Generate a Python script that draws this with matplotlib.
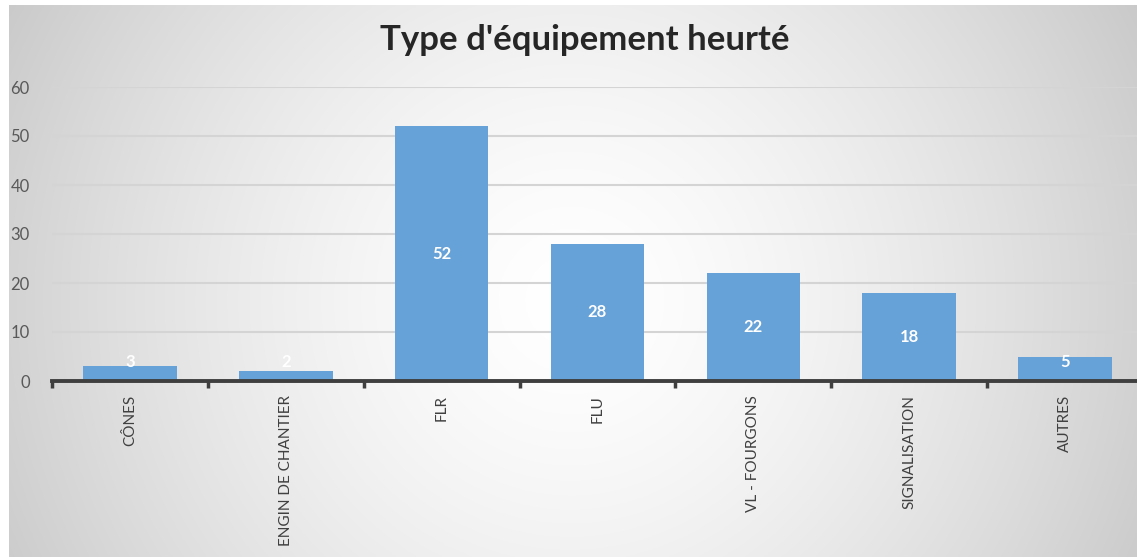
import numpy as np
import matplotlib
matplotlib.use("Agg")
import matplotlib.pyplot as plt

categories = ["CÔNES", "ENGIN DE CHANTIER", "FLR", "FLU", "VL - FOURGONS", "SIGNALISATION", "AUTRES"]
values = [3, 2, 52, 28, 22, 18, 5]
yticks = [0, 10, 20, 30, 40, 50, 60]
title = "Type d'équipement heurté"

W, H = 1137, 559
fig = plt.figure(figsize=(W / 100, H / 100), dpi=100)
fig.patch.set_facecolor("white")

# background radial gradient
bg = fig.add_axes([0, 0, 1, 1])
bg.set_xlim(0, W)
bg.set_ylim(H, 0)
bg.axis("off")
x0, x1, y0, y1 = 9, W, 5, 557
xx, yy = np.meshgrid(np.arange(x0, x1), np.arange(y0, y1))
cx, cy = 570, 300
d = np.sqrt((xx - cx) ** 2 + (yy - cy) ** 2) / 628.0
g = np.clip(255 - 52 * d ** 1.5, 0, 255) / 255.0
img = np.dstack([g, g, g])
bg.imshow(img, extent=(x0, x1, y1, y0), aspect="auto", interpolation="bilinear", zorder=0)

ax = fig.add_axes([52 / W, 1 - 381 / H, (1143 - 52) / W, (381 - 87) / H])
ax.patch.set_alpha(0)
x = np.arange(len(categories))
bars = ax.bar(x, values, width=0.6, color="#66a1d8", zorder=3)
ax.set_xlim(-0.5, len(categories) - 0.5)
ax.set_ylim(0, 60)
ax.set_yticks(yticks)
ax.yaxis.grid(True, color="#d4d4d4", lw=1.5, zorder=0)
ax.set_axisbelow(True)
for s in ["top", "right", "left"]:
    ax.spines[s].set_visible(False)
ax.spines["bottom"].set_color("#3f3f3f")
ax.spines["bottom"].set_linewidth(2.8)
ax.spines["bottom"].set_zorder(4)
ax.tick_params(axis="y", length=0, pad=16, labelsize=12, labelcolor="#595959")
ax.set_yticklabels([str(t) for t in yticks], family="Lato")
ax.set_xticks(x)
ax.set_xticklabels(categories, rotation=90, family="Lato", fontsize=11, color="#404040", va="top")
ax.tick_params(axis="x", which="major", length=0, pad=10)
ax.set_xticks(np.arange(-0.5, len(categories) + 0.5, 1), minor=True)
ax.tick_params(axis="x", which="minor", length=5, width=2.5, color="#3f3f3f", direction="out")

for xi, v in zip(x, values):
    ax.text(xi, max(v / 2, 3.8), str(v), ha="center", va="center", color="white",
            fontsize=12, fontweight="bold", family="Lato", zorder=5)

fig.text(585 / W, 1 - 40 / H, title, ha="center", va="center", fontsize=25,
         fontweight="bold", family="Lato", color="#262626")

fig.savefig("out.png", dpi=100)
